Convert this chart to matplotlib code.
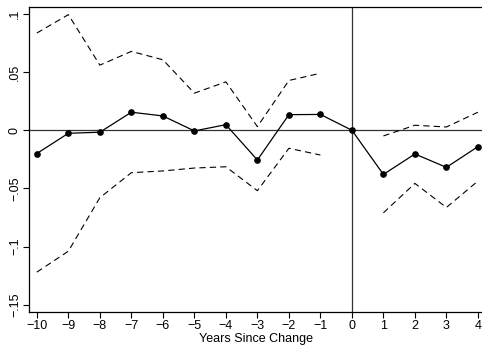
import matplotlib
matplotlib.use("Agg")
import matplotlib.pyplot as plt

plt.rcParams['font.family'] = ['Liberation Sans', 'DejaVu Sans']
plt.rcParams['lines.scale_dashes'] = False

# years relative to the change
years = [-10, -9, -8, -7, -6, -5, -4, -3, -2, -1, 0, 1, 2, 3, 4]
coef = [-0.020, -0.0026, -0.0017, 0.0155, 0.0123, -0.0006, 0.0048, -0.0256,
        0.0134, 0.0136, 0.0, -0.038, -0.0204, -0.0319, -0.0141]

# confidence bands (pre and post segments drawn separately)
pre_years = [-10, -9, -8, -7, -6, -5, -4, -3, -2, -1]
pre_upper = [0.0836, 0.0994, 0.056, 0.0678, 0.0606, 0.0319, 0.0416, 0.0031, 0.0428, 0.049]
pre_lower = [-0.122, -0.104, -0.058, -0.0365, -0.035, -0.0325, -0.0314, -0.052, -0.0155, -0.0213]
post_years = [1, 2, 3, 4]
post_upper = [-0.0049, 0.0043, 0.0028, 0.0155]
post_lower = [-0.071, -0.0457, -0.0664, -0.0437]

yticks = [0.1, 0.05, 0, -0.05, -0.1, -0.15]
ytick_labels = ['.1', '.05', '0', '\u2212.05', '\u2212.1', '\u2212.15']

fig = plt.figure(figsize=(4.82, 3.49), dpi=100)
ax = fig.add_axes([0.0608, 0.107, 0.9392, 0.873])

ax.axhline(0, color='#333333', lw=0.9, zorder=1)
ax.axvline(0, color='#333333', lw=0.9, zorder=1)

dash = (4.5, 3)
for xs, ys in [(pre_years, pre_upper), (pre_years, pre_lower),
               (post_years, post_upper), (post_years, post_lower)]:
    ax.plot(xs, ys, color='black', lw=0.8, dashes=dash, zorder=2)

ax.plot(years, coef, color='black', lw=0.9, marker='o', markersize=3.8, zorder=3)

ax.set_xlim(-10.24, 4.13)
ax.set_ylim(-0.156, 0.106)
ax.set_xticks(years)
ax.set_xticklabels([str(y).replace('-', '\u2212') for y in years])
ax.set_yticks(yticks)
ax.set_yticklabels(ytick_labels, rotation=90, va='center')
ax.tick_params(direction='out', length=4, width=0.8, labelsize=9, pad=2)
ax.spines['right'].set_visible(False)
for s in ['left', 'bottom', 'top']:
    ax.spines[s].set_linewidth(0.9)
ax.set_xlabel('Years Since Change', fontsize=9, labelpad=1)

fig.savefig('out.png', dpi=100)
